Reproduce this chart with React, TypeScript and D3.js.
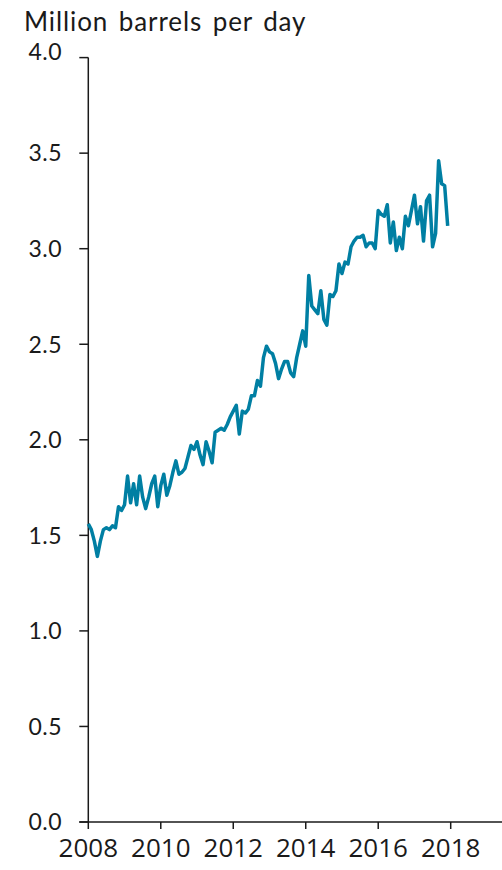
import React from "react";
import * as d3 from "d3";

const startYear = 2008;
const values: number[] = [
  // 2008
  1.56, 1.53, 1.47, 1.39, 1.47, 1.53, 1.54, 1.53, 1.55, 1.54, 1.65, 1.63,
  // 2009
  1.66, 1.81, 1.67, 1.77, 1.66, 1.81, 1.70, 1.64, 1.70, 1.77, 1.81, 1.65,
  // 2010
  1.76, 1.82, 1.71, 1.76, 1.83, 1.89, 1.82, 1.83, 1.85, 1.91, 1.97, 1.95,
  // 2011
  1.99, 1.92, 1.87, 1.99, 1.94, 1.88, 2.04, 2.05, 2.06, 2.05, 2.08, 2.12,
  // 2012
  2.15, 2.18, 2.03, 2.15, 2.14, 2.16, 2.23, 2.23, 2.31, 2.28, 2.43, 2.49,
  // 2013
  2.46, 2.45, 2.40, 2.32, 2.37, 2.41, 2.41, 2.35, 2.33, 2.43, 2.50, 2.57,
  // 2014
  2.49, 2.86, 2.70, 2.68, 2.66, 2.78, 2.63, 2.60, 2.76, 2.75, 2.78, 2.92,
  // 2015
  2.87, 2.93, 2.92, 3.01, 3.04, 3.06, 3.06, 3.07, 3.01, 3.03, 3.03, 3.00,
  // 2016
  3.20, 3.18, 3.17, 3.23, 3.03, 3.14, 2.99, 3.06, 3.00, 3.17, 3.12, 3.20,
  // 2017
  3.28, 3.13, 3.22, 3.04, 3.25, 3.28, 3.01, 3.08, 3.46, 3.34, 3.33, 3.12,
];

const yTicks = [0, 0.5, 1.0, 1.5, 2.0, 2.5, 3.0, 3.5, 4.0];
const xTicks = [2008, 2010, 2012, 2014, 2016, 2018];
const title = "Million barrels per day";

export default function App() {
  const W = 502;
  const H = 870;
  const x = d3.scaleLinear().domain([2008, 2019.5]).range([88.3, 88.3 + 36.24 * 11.5]);
  const y = d3.scaleLinear().domain([0, 4]).range([822, 822 - 4 * 191.1]);
  const data = values.map((v, i) => ({ t: startYear + i / 12, v }));
  const line = d3
    .line<{ t: number; v: number }>()
    .x((d) => x(d.t))
    .y((d) => y(d.v));
  const axisColor = "#1a1a1a";
  return (
    <svg
      width={W}
      height={H}
      style={{ position: "absolute", left: 0, top: 0, background: "#fff" }}
    >
      <text
        x={24}
        y={31}
        fontFamily="Lato"
        fontSize={26}
        letterSpacing={0.9}
        wordSpacing={3}
        fill="#1a1a1a"
      >
        {title}
      </text>
      {/* y axis */}
      <line x1={x(2008)} x2={x(2008)} y1={y(4)} y2={y(0)} stroke={axisColor} strokeWidth={1.5} />
      {yTicks.map((t) => (
        <g key={t}>
          <line x1={x(2008) - 9} x2={x(2008)} y1={y(t)} y2={y(t)} stroke={axisColor} strokeWidth={1.5} />
          <text
            x={62}
            y={t === 4 ? 59.5 : y(t)}
            dy={t === 4 ? 0 : "0.36em"}
            textAnchor="end"
            fontFamily="Lato"
            fontSize={23}
            letterSpacing={0.5}
            fill="#1a1a1a"
          >
            {t.toFixed(1)}
          </text>
        </g>
      ))}
      {/* x axis */}
      <line x1={x(2008) - 9} x2={W} y1={y(0)} y2={y(0)} stroke={axisColor} strokeWidth={1.5} />
      {xTicks.map((t) => (
        <g key={t}>
          <line x1={x(t)} x2={x(t)} y1={y(0)} y2={y(0) + 7} stroke={axisColor} strokeWidth={1.5} />
          <text
            x={x(t)}
            y={857}
            textAnchor="middle"
            fontFamily="Open Sans"
            fontSize={26}
            fill="#1a1a1a"
          >
            {t}
          </text>
        </g>
      ))}
      <path d={line(data) || ""} fill="none" stroke="#007FA3" strokeWidth={3.5} strokeLinejoin="round" />
    </svg>
  );
}
